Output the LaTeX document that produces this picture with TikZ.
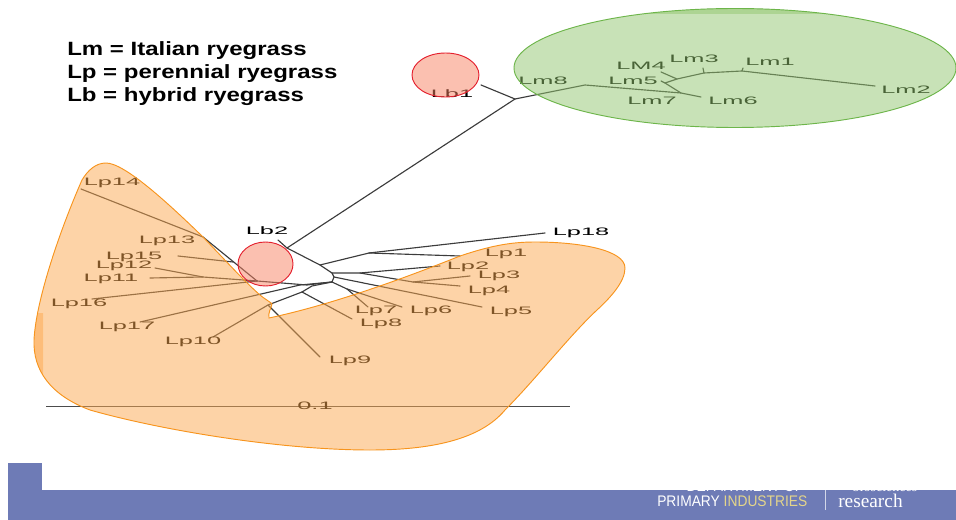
\documentclass[tikz,border=0pt]{standalone}
\usepackage{fontspec}
\setmainfont{Liberation Sans}
\newfontfamily\labfont[FakeStretch=2.35]{Liberation Sans}
\newfontfamily\titlefont[FakeStretch=1.25]{Liberation Sans Bold}
\newfontfamily\logofont[FakeStretch=0.9]{Liberation Sans}
\newfontfamily\logoserif[FakeStretch=1.0]{Liberation Serif}
\definecolor{bandblue}{HTML}{6E7BB6}
\definecolor{blobfill}{HTML}{FCA84F}
\definecolor{blobline}{HTML}{F7941D}
\definecolor{greenfill}{HTML}{92C66F}
\definecolor{greenline}{HTML}{6DB54A}
\definecolor{redfill}{HTML}{F78161}
\definecolor{redline}{HTML}{E4202E}
\definecolor{treeline}{HTML}{3C3C3C}
\tikzset{
  x=0.75pt,y=-0.75pt,
  lab/.style={font=\labfont\fontsize{8.1}{9}\selectfont,text=black,inner sep=0pt},
  title/.style={font=\titlefont\fontsize{14.4}{16}\selectfont,anchor=west,inner sep=0pt},
  branch/.style={draw=treeline,line width=0.85pt,line cap=round,line join=round},
  blob/.style={fill=blobfill,fill opacity=0.5},
  greenzone/.style={fill=greenfill,fill opacity=0.5},
  redzone/.style={fill=redfill,fill opacity=0.5,draw=redline,draw opacity=1,line width=0.7pt},
  logo/.style={inner sep=0pt,text=white}
}
\begin{document}
\begin{tikzpicture}
\useasboundingbox (0,0) rectangle (956,520);
% internal tree vertices
\foreach \n/\p in {
 ja/{515,99},jm/{585,85},jn/{681,93},jo/{665,83},jq/{677,79},jr/{704,73},js/{742,71},
 ea/{481,85},eb/{701,97},ec/{661,81},ed/{661,72},ee/{703,68},ef/{743,68},eg/{875,86},
 ka/{287,248},eh/{278,240},kb/{320,265},kc/{332,273},kd/{334,277},ke/{332,282},
 kf/{369,253},ei/{545,233},ej/{460,256},kg/{360,273},ek/{440,266},kh/{413,282},
 el/{470,276},em/{460,286},en/{482,307},ki/{347,289},eo/{368,307},ep/{402,307},
 kj/{312,286},kk/{302,292},eq/{352,319},kl/{268,305},er/{213,337},es/{320,357},
 km/{300,285},et/{140,322},eu/{92,299},kn/{257,281},ko/{203,237},ev/{81,189},
 ew/{178,256},kp/{233,262},ex/{155,268},ky/{203,277},ez/{150,278},la/{307,285}}
 {\coordinate (\n) at (\p);}
% tree
\draw[branch] (ea) -- (ja);
\draw[branch] (ja) -- (jm) -- (jn) -- (eb);
\draw[branch] (jn) -- (jo) -- (ec);
\draw[branch] (jo) -- (jq) -- (ed);
\draw[branch] (jq) -- (jr) -- (ee);
\draw[branch] (jr) -- (js) -- (ef);
\draw[branch] (js) -- (eg);
\draw[branch] (ja) -- (ka) -- (eh);
\draw[branch] (ka) -- (kb) -- (kc) -- (kd) -- (ke);
\draw[branch] (kb) -- (kf) -- (ei);
\draw[branch] (kf) -- (ej);
\draw[branch] (kc) -- (kg) -- (ek);
\draw[branch] (kg) -- (kh) -- (el);
\draw[branch] (kh) -- (em);
\draw[branch] (kd) -- (en);
\draw[branch] (ke) -- (ki) -- (eo);
\draw[branch] (ki) -- (ep);
\draw[branch] (ke) -- (kj) -- (kk) -- (eq);
\draw[branch] (kk) -- (kl) -- (er);
\draw[branch] (kl) -- (es);
\draw[branch] (ke) -- (km) -- (et);
\draw[branch] (kn) -- (eu);
\draw[branch] (ke) -- (la) -- (kn);
\draw[branch] (kn) -- (ko) -- (ev);
\draw[branch] (kp) -- (ew);
\draw[branch] (kn) -- (ky) -- (ez);
\draw[branch] (ky) -- (ex);
% scale bar
\coordinate (sa) at (46,406);
\coordinate (sb) at (570,406);
\draw[draw=black!70,line width=0.6pt] (sa) -- (sb);
% labels
\foreach \n/\t/\p in {
 lLbA/Lb1/{452,94},lLmH/Lm8/{543,81},lLmE/Lm5/{633,81},lLMD/LM4/{641,66},lLmC/Lm3/{694,59},
 lLmA/Lm1/{770,62},lLmB/Lm2/{906,90},lLmG/Lm7/{652,101},lLmF/Lm6/{733,101},
 lLbB/Lb2/{267,231},lN/Lp14/{112,183},lM/Lp13/{167,241},lO/Lp15/{134,257},lL/Lp12/{124,266},
 lK/Lp11/{111,279},lP/Lp16/{79,304},lQ/Lp17/{127,327},lJ/Lp10/{193,342},lR/Lp18/{581,233},
 lA/Lp1/{506,254},lB/Lp2/{468,267},lC/Lp3/{499,276},lD/Lp4/{489,291},lE/Lp5/{511,312},
 lF/Lp6/{431,311},lG/Lp7/{376,311},lH/Lp8/{381,324},lI/Lp9/{350,361},lScale/0.1/{315,406}}
 {\node[lab] (\n) at (\p) {\t};}
% coloured zones
\path[blob] (269,318)
  .. controls (330,305) and (400,280) .. (460,256)
  .. controls (490,246) and (510,242) .. (535,242)
  .. controls (580,242) and (625,250) .. (625,268)
  .. controls (625,282) and (610,298) .. (597,310)
  .. controls (570,335) and (535,380) .. (505,410)
  .. controls (480,440) and (430,450) .. (370,450)
  .. controls (280,450) and (160,430) .. (90,410)
  .. controls (50,395) and (33,370) .. (34,340)
  .. controls (36,300) and (60,230) .. (82,180)
  .. controls (88,170) and (96,163) .. (106,163)
  .. controls (125,163) and (170,205) .. (203,237)
  .. controls (225,260) and (245,282) .. (260,295)
  .. controls (266,300) and (272,303) .. (272,304)
  .. controls (271,309) and (268,312) .. (269,318) -- cycle;
\begin{scope}
  \clip (0,313) rectangle (43,400);
  \path[blob] (90,410)
  .. controls (50,395) and (33,370) .. (34,340)
  .. controls (36,300) and (60,230) .. (82,180) -- (100,410) -- cycle;
\end{scope}
\draw[blobline,line width=0.7pt] (269,318)
  .. controls (330,305) and (400,280) .. (460,256)
  .. controls (490,246) and (510,242) .. (535,242)
  .. controls (580,242) and (625,250) .. (625,268)
  .. controls (625,282) and (610,298) .. (597,310)
  .. controls (570,335) and (535,380) .. (505,410)
  .. controls (480,440) and (430,450) .. (370,450)
  .. controls (280,450) and (160,430) .. (90,410)
  .. controls (50,395) and (33,370) .. (34,340)
  .. controls (36,300) and (60,230) .. (82,180)
  .. controls (88,170) and (96,163) .. (106,163)
  .. controls (125,163) and (170,205) .. (203,237)
  .. controls (225,260) and (245,282) .. (260,295)
  .. controls (266,300) and (272,303) .. (272,304)
  .. controls (271,309) and (268,312) .. (269,318) -- cycle;
\path[greenzone] (735,68) ellipse [x radius=221,y radius=59.5];
\begin{scope}
  \clip (600,0) rectangle (900,14);
  \path[greenzone] (735,68) ellipse [x radius=221,y radius=59.5];
\end{scope}
\draw[greenline,line width=0.7pt] (735,68) ellipse [x radius=221,y radius=59.5];
\path[redzone] (445.5,75) ellipse [x radius=33.5,y radius=22];
\path[redzone] (265.5,264) ellipse [x radius=27.5,y radius=22];
% legend
\node[title] (tA) at (67,50.5) {Lm = Italian ryegrass};
\node[title] (tB) at (67,73.5) {Lp = perennial ryegrass};
\node[title] (tC) at (67,96.5) {Lb = hybrid ryegrass};
% footer band
\fill[bandblue] (8,490) rectangle (956,520);
\fill[bandblue] (8,463) rectangle (42,491);
\fill[white!70!bandblue] (824.5,490) rectangle (825.5,510);
\begin{scope}
  \clip (640,490) rectangle (956,520);
  \node[logo,font=\logofont\fontsize{11.5}{12}\selectfont] (dA) at (745,486.5) {DEPARTMENT OF};
  \node[logo,font=\logoserif\fontsize{10.5}{12}\selectfont] (dB) at (885,486.5) {biosciences};
\end{scope}
\node[logo,font=\logofont\fontsize{11.5}{12}\selectfont,anchor=west] (dC) at (657,501) {PRIMARY \textcolor[HTML]{E4D58A}{INDUSTRIES}};
\node[logo,font=\logoserif\fontsize{14.5}{15}\selectfont,anchor=west] (dD) at (838,501) {research};
\end{tikzpicture}
\end{document}
